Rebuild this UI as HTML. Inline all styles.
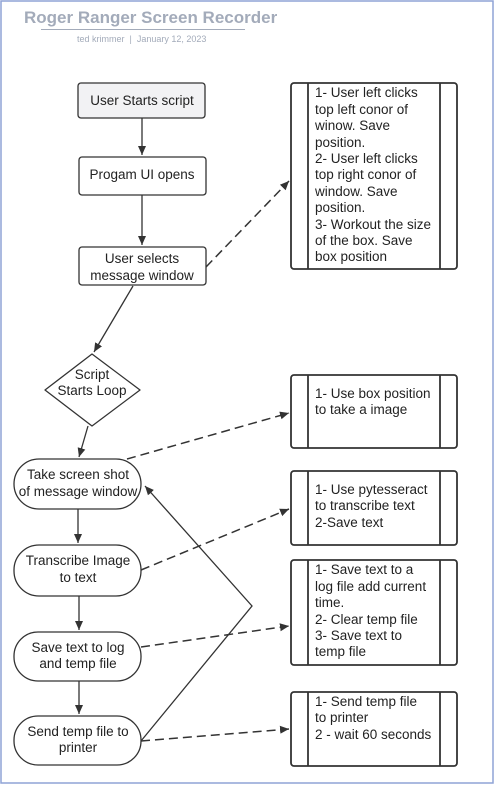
<!DOCTYPE html>
<html><head><style>
body{margin:0;background:#fff;}
svg text{font-family:"Liberation Sans",sans-serif;}
</style></head><body>
<svg width="495" height="785" xmlns="http://www.w3.org/2000/svg">
<defs><marker id="a" markerWidth="10" markerHeight="10" refX="9" refY="5" orient="auto" markerUnits="userSpaceOnUse"><path d="M0,1 L9,5 L0,9 Z" fill="#333"/></marker></defs>
<rect x="1" y="1" width="492" height="782" fill="#fff" stroke="#8fa3d6" stroke-width="1.5"/>
<text x="24" y="23" font-size="17" font-weight="bold" fill="#a3abba">Roger Ranger Screen Recorder</text>
<line x1="41" y1="29.5" x2="245" y2="29.5" stroke="#a3abba" stroke-width="1"/>
<text x="77" y="42" font-size="9" fill="#a3abba" xml:space="preserve">ted krimmer  |  January 12, 2023</text>
<g stroke="#333" stroke-width="1.3" fill="#fff">
<rect x="78" y="83" width="127" height="35" rx="3" fill="#f2f2f4"/>
<rect x="79" y="157" width="127" height="38" rx="3"/>
<rect x="79" y="247" width="127" height="38" rx="3"/>
<path d="M92,354 L140,390 L92,426 L45,390 Z" stroke-linejoin="round"/>
<rect x="14" y="459" width="127" height="50" rx="25"/>
<rect x="14" y="545" width="127" height="51" rx="25"/>
<rect x="14" y="632" width="127" height="49" rx="24"/>
<rect x="14" y="716" width="127" height="49" rx="24"/>
<g stroke-width="1.8">
<rect x="291" y="83" width="166" height="186" rx="3"/><line x1="308" y1="83" x2="308" y2="269"/><line x1="440" y1="83" x2="440" y2="269"/>
<rect x="291" y="375" width="166" height="73" rx="3"/><line x1="308" y1="375" x2="308" y2="448"/><line x1="440" y1="375" x2="440" y2="448"/>
<rect x="291" y="471" width="166" height="74" rx="3"/><line x1="308" y1="471" x2="308" y2="545"/><line x1="440" y1="471" x2="440" y2="545"/>
<rect x="291" y="560" width="166" height="105" rx="3"/><line x1="308" y1="560" x2="308" y2="665"/><line x1="440" y1="560" x2="440" y2="665"/>
<rect x="291" y="692" width="166" height="74" rx="3"/><line x1="308" y1="692" x2="308" y2="766"/><line x1="440" y1="692" x2="440" y2="766"/>
</g>
</g>
<g stroke="#333" stroke-width="1.3" fill="none">
<line x1="142" y1="118" x2="142" y2="155" marker-end="url(#a)"/>
<line x1="142" y1="195" x2="142" y2="245" marker-end="url(#a)"/>
<line x1="133" y1="286" x2="94" y2="352" marker-end="url(#a)"/>
<line x1="88" y1="426" x2="79" y2="457" marker-end="url(#a)"/>
<line x1="78" y1="509" x2="78" y2="543" marker-end="url(#a)"/>
<line x1="79" y1="596" x2="79" y2="630" marker-end="url(#a)"/>
<line x1="79" y1="681" x2="79" y2="714" marker-end="url(#a)"/>
<polyline points="141,741 252,606 145,486" marker-end="url(#a)"/>
<g stroke-dasharray="9,5" stroke-width="1.5">
<line x1="206" y1="267" x2="289" y2="181" marker-end="url(#a)"/>
<line x1="127" y1="459" x2="289" y2="413" marker-end="url(#a)"/>
<line x1="141" y1="570" x2="289" y2="509" marker-end="url(#a)"/>
<line x1="141" y1="647" x2="289" y2="626" marker-end="url(#a)"/>
<line x1="141" y1="741" x2="289" y2="729" marker-end="url(#a)"/>
</g>
</g>
<g font-size="13.5" fill="#222" text-anchor="middle">
<text x="142" y="105">User Starts script</text>
<text x="142" y="179">Progam UI opens</text>
<text x="142" y="263">User selects</text><text x="142" y="280">message window</text>
<text x="92" y="379">Script</text><text x="92" y="395">Starts Loop</text>
<text x="78" y="479">Take screen shot</text><text x="78" y="496">of message window</text>
<text x="78" y="565">Transcribe Image</text><text x="78" y="582">to text</text>
<text x="78" y="652">Save text to log</text><text x="78" y="668">and temp file</text>
<text x="78" y="736">Send temp file to</text><text x="78" y="752">printer</text>
</g>
<g font-size="13.5" fill="#222">
<text x="315" y="97">1- User left clicks</text>
<text x="315" y="114">top left conor of</text>
<text x="315" y="130">winow. Save</text>
<text x="315" y="147">position.</text>
<text x="315" y="163">2- User left clicks</text>
<text x="315" y="179">top right conor of</text>
<text x="315" y="196">window. Save</text>
<text x="315" y="212">position.</text>
<text x="315" y="229">3- Workout the size</text>
<text x="315" y="245">of the box. Save</text>
<text x="315" y="261">box position</text>
<text x="315" y="398">1- Use box position</text>
<text x="315" y="414">to take a image</text>
<text x="315" y="494">1- Use pytesseract</text>
<text x="315" y="510">to transcribe text</text>
<text x="315" y="527">2-Save text</text>
<text x="315" y="574">1- Save text to a</text>
<text x="315" y="591">log file add current</text>
<text x="315" y="607">time.</text>
<text x="315" y="624">2- Clear temp file</text>
<text x="315" y="640">3- Save text to</text>
<text x="315" y="656">temp file</text>
<text x="315" y="706">1- Send temp file</text>
<text x="315" y="722">to printer</text>
<text x="315" y="739">2 - wait 60 seconds</text>
</g>
</svg>
</body></html>
